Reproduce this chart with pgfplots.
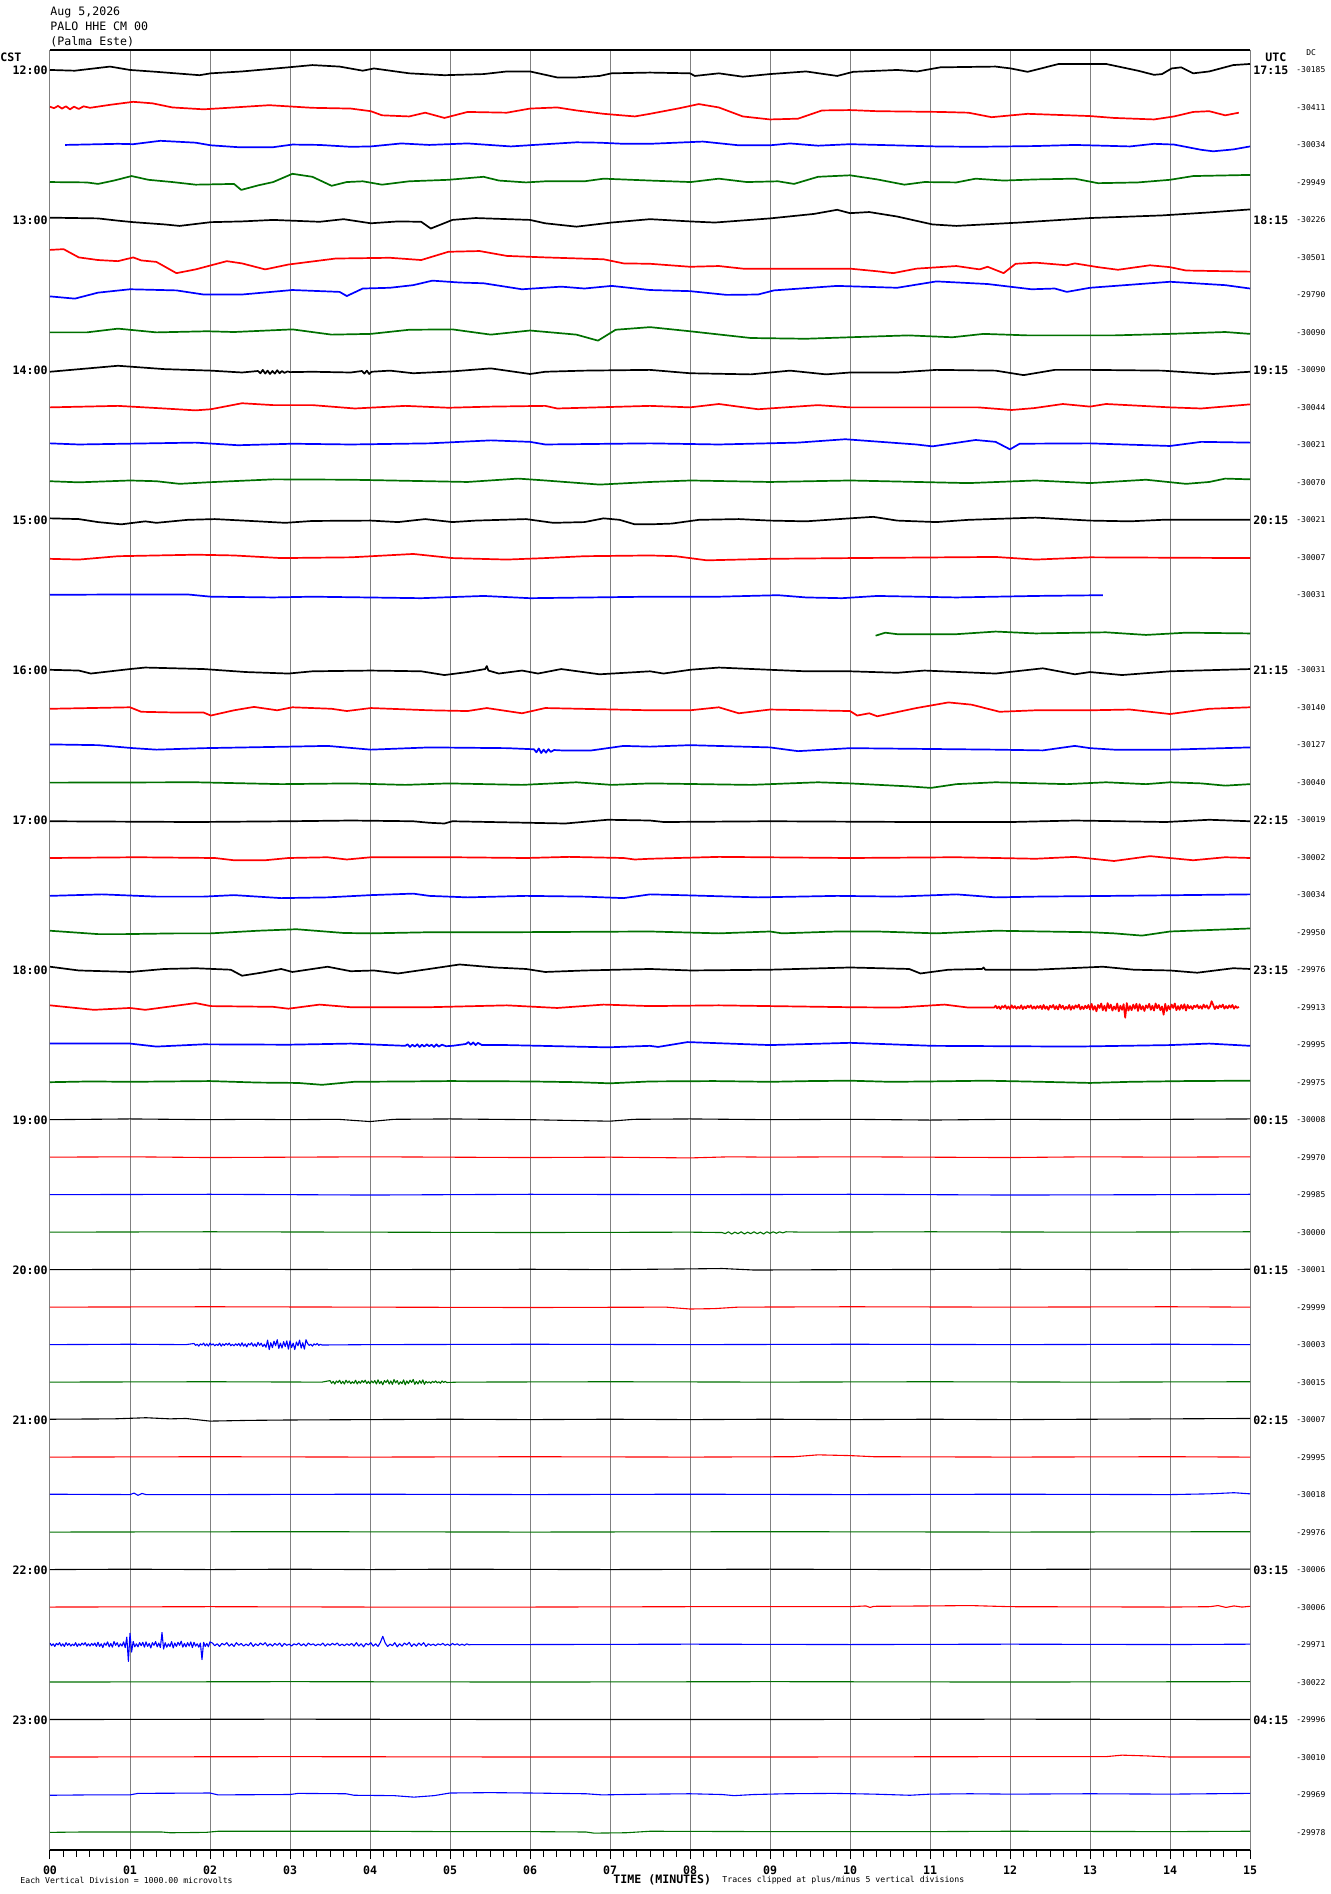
\documentclass[border=0pt]{standalone}
\usepackage{fontspec}
\setmainfont{DejaVu Sans Mono}
\usepackage{pgfplots}
\pgfplotsset{compat=1.18}
\definecolor{hgreen}{RGB}{0,112,0}
\definecolor{hgray}{RGB}{128,128,128}
\newcommand\lbl{\bfseries\fontsize{5.8}{6}\selectfont}
\newcommand\sml{\fontsize{4.1}{4.5}\selectfont}
\newcommand\dcf{\fontsize{4.0}{4.4}\selectfont}
\pgfplotsset{
 tr/.style 2 args={#1, line width=0.85pt, line join=round, y filter/.expression={y-#2}},
 tq/.style 2 args={#1, line width=0.55pt, line join=round, y filter/.expression={y-#2}},
}
\begin{document}
\begin{tikzpicture}
\path[use as bounding box] (0,0) rectangle (665pt,947pt);
\begin{axis}[
 at={(25pt,22pt)}, anchor=south west,
 scale only axis, width=600pt, height=900pt,
 xmin=0, xmax=15, ymin=-47.48, ymax=0.533,
 xtick={0,...,15},
 xticklabels={00,01,02,03,04,05,06,07,08,09,10,11,12,13,14,15},
 minor x tick num=5,
 ytick=\empty,
 xtick pos=lower,
 tick align=outside,
 major tick length=4.5pt, minor tick length=3.3pt,
 xmajorgrids,
 grid style={hgray, line width=0.5pt},
 separate axis lines,
 x axis line style={black, line width=0.7pt},
 y axis line style={hgray, line width=0.5pt},
 tick style={black, line width=0.5pt},
 xticklabel style={font=\lbl},
 no markers,
 clip mode=individual,
]
% 12:00
\addplot[tr={black}{0}] coordinates {(0,0) (0.31,-0.02) (0.75,0.09) (1,0) (1.33,-0.05) (1.87,-0.14) (2.01,-0.09) (2.4,-0.04) (2.98,0.07) (3.28,0.13) (3.62,0.09) (3.91,-0.02) (4.05,0.04) (4.49,-0.09) (4.93,-0.14) (5.42,-0.11) (5.71,-0.04) (6,-0.04) (6.34,-0.2) (6.58,-0.2) (6.87,-0.16) (7.02,-0.09) (7.5,-0.07) (8,-0.09) (8.06,-0.16) (8.36,-0.09) (8.66,-0.18) (9,-0.11) (9.45,-0.04) (9.84,-0.16) (10.04,-0.05) (10.59,0) (10.84,-0.04) (11.13,0.07) (11.82,0.09) (12.01,0.04) (12.22,-0.05) (12.61,0.16) (13.01,0.16) (13.2,0.16) (13.6,-0.02) (13.8,-0.13) (13.9,-0.11) (14.02,0.04) (14.14,0.07) (14.29,-0.09) (14.49,-0.04) (14.79,0.13) (15,0.16)};
\addplot[tr={red}{1}] coordinates {(0,0.02) (0.05,-0.02) (0.1,0.04) (0.15,-0.03) (0.2,0.03) (0.25,-0.05) (0.3,0.02) (0.36,-0.04) (0.42,0.03) (0.5,-0.01) (0.75,0.07) (1.04,0.15) (1.28,0.11) (1.53,0) (1.92,-0.05) (2.3,0) (2.74,0.06) (3.28,-0.01) (3.76,-0.03) (4.01,-0.1) (4.15,-0.21) (4.49,-0.24) (4.69,-0.14) (4.93,-0.28) (5.22,-0.12) (5.71,-0.14) (6,-0.03) (6.34,0) (6.58,-0.08) (6.92,-0.17) (7.31,-0.24) (7.5,-0.17) (7.87,-0.02) (8.11,0.09) (8.36,0) (8.66,-0.24) (9,-0.32) (9.35,-0.3) (9.65,-0.08) (10,-0.07) (10.34,-0.1) (11.13,-0.12) (11.48,-0.14) (11.77,-0.26) (12.22,-0.17) (13,-0.23) (13.3,-0.28) (13.8,-0.32) (14.05,-0.24) (14.29,-0.12) (14.49,-0.1) (14.69,-0.21) (14.86,-0.14)};
\addplot[tr={blue}{2}] coordinates {(0.19,0) (0.85,0.03) (1.04,0.02) (1.38,0.11) (1.82,0.06) (2.01,-0.01) (2.35,-0.06) (2.79,-0.06) (3.03,0.01) (3.37,0) (3.76,-0.05) (4.01,-0.04) (4.39,0.04) (4.74,0) (5.22,0.04) (5.76,-0.04) (6.05,0) (6.58,0.07) (6.87,0.06) (7.17,0.03) (7.5,0.03) (8.16,0.09) (8.61,-0.01) (9,-0.01) (9.25,0.04) (9.6,-0.02) (10,0.02) (11.08,-0.04) (11.57,-0.05) (12.32,-0.03) (12.81,0) (13.5,-0.04) (13.8,0.03) (14.05,0.01) (14.39,-0.13) (14.54,-0.17) (14.79,-0.12) (15,-0.04)};
\addplot[tr={hgreen}{3}] coordinates {(0,0.01) (0.46,0) (0.6,-0.04) (0.8,0.05) (1.02,0.17) (1.23,0.07) (1.53,0.01) (1.82,-0.06) (2.3,-0.04) (2.39,-0.2) (2.6,-0.08) (2.79,0.01) (3.03,0.23) (3.28,0.15) (3.52,-0.09) (3.71,0.01) (3.91,0.03) (4.15,-0.06) (4.49,0.03) (4.98,0.07) (5.42,0.15) (5.61,0.05) (5.95,0) (6.19,0.03) (6.68,0.03) (6.92,0.1) (7.5,0.05) (8.01,0.01) (8.36,0.1) (8.71,0.01) (9.1,0.03) (9.3,-0.04) (9.6,0.15) (10,0.19) (10.34,0.08) (10.68,-0.06) (10.93,0.01) (11.33,0) (11.57,0.1) (11.92,0.05) (12.32,0.08) (12.81,0.1) (13.1,-0.02) (13.6,0) (14,0.07) (14.29,0.17) (15,0.2)};
% 13:00
\addplot[tr={black}{4}] coordinates {(0,0.06) (0.6,0.04) (0.85,-0.02) (1.04,-0.06) (1.43,-0.12) (1.62,-0.16) (2.01,-0.06) (2.4,-0.04) (2.79,0) (3.37,-0.05) (3.67,0.02) (4.01,-0.09) (4.35,-0.04) (4.64,-0.05) (4.76,-0.23) (5.03,0) (5.32,0.05) (6,0) (6.19,-0.09) (6.58,-0.18) (7.02,-0.07) (7.5,0.02) (8,-0.04) (8.31,-0.07) (9,0.04) (9.55,0.16) (9.84,0.27) (10,0.18) (10.24,0.21) (10.59,0.09) (11.03,-0.12) (11.33,-0.16) (12.12,-0.07) (13,0.05) (13.9,0.12) (14.49,0.2) (15,0.28)};
\addplot[tr={red}{5}] coordinates {(0,0.2) (0.17,0.22) (0.36,0) (0.6,-0.07) (0.85,-0.1) (1.04,0) (1.14,-0.08) (1.33,-0.12) (1.58,-0.42) (1.82,-0.32) (2.21,-0.1) (2.4,-0.16) (2.69,-0.32) (2.98,-0.19) (3.57,-0.03) (4.25,-0.01) (4.64,-0.07) (4.98,0.15) (5.37,0.17) (5.71,0.04) (6.19,0) (6.92,-0.05) (7.17,-0.16) (7.5,-0.17) (8,-0.25) (8.36,-0.23) (8.66,-0.3) (10,-0.3) (10.34,-0.37) (10.54,-0.42) (10.83,-0.3) (11.33,-0.23) (11.62,-0.32) (11.72,-0.25) (11.92,-0.42) (12.07,-0.17) (12.32,-0.14) (12.71,-0.21) (12.81,-0.16) (13.1,-0.26) (13.35,-0.33) (13.75,-0.21) (14,-0.26) (14.2,-0.35) (15,-0.38)};
\addplot[tr={blue}{6}] coordinates {(0,-0.04) (0.31,-0.1) (0.6,0.06) (1,0.15) (1.58,0.12) (1.92,0.01) (2.4,0.01) (3.03,0.13) (3.62,0.08) (3.71,-0.03) (3.91,0.17) (4.25,0.19) (4.54,0.26) (4.78,0.38) (5.12,0.33) (5.42,0.31) (5.9,0.15) (6.39,0.22) (6.68,0.17) (7.02,0.24) (7.5,0.13) (8,0.1) (8.46,0) (8.85,0.01) (9.05,0.12) (9.84,0.24) (10.59,0.19) (11.08,0.36) (11.72,0.29) (12.27,0.15) (12.56,0.17) (12.71,0.08) (13,0.19) (14,0.35) (14.69,0.26) (15,0.17)};
\addplot[tr={hgreen}{7}] coordinates {(0,0) (0.46,0) (0.85,0.1) (1.33,0) (1.96,0.03) (2.3,0.01) (3.03,0.08) (3.52,-0.06) (4.01,-0.04) (4.49,0.07) (5.03,0.08) (5.51,-0.06) (6,0.05) (6.58,-0.06) (6.85,-0.22) (7.07,0.07) (7.5,0.14) (8,0.03) (8.76,-0.15) (9.45,-0.17) (10,-0.13) (10.73,-0.08) (11.28,-0.13) (11.67,-0.04) (12.22,-0.08) (13.3,-0.08) (14,-0.04) (14.69,0.01) (15,-0.04)};
% 14:00
\addplot[tr={black}{8}] coordinates {(0,-0.05) (0.85,0.11) (1.43,0.02) (2.01,-0.02) (2.4,-0.07) (2.6,-0.03) (2.63,-0.09) (2.66,0) (2.69,-0.1) (2.72,-0.02) (2.75,-0.11) (2.78,-0.03) (2.81,-0.1) (2.84,-0.01) (2.87,-0.09) (2.9,-0.03) (2.93,-0.08) (2.97,-0.04) (3.0,-0.06) (3.28,-0.05) (3.76,-0.07) (3.9,-0.03) (3.93,-0.1) (3.96,-0.02) (3.99,-0.11) (4.02,-0.05) (4.25,-0.02) (4.54,-0.09) (5.03,-0.04) (5.51,0.04) (6,-0.11) (6.19,-0.05) (6.68,-0.02) (7.5,0) (8,-0.09) (8.76,-0.12) (9.25,-0.02) (9.7,-0.12) (10,-0.07) (10.59,-0.07) (11.08,0) (11.82,-0.02) (12.17,-0.14) (12.56,0) (13,0) (13.9,-0.02) (14.54,-0.11) (15,-0.05)};
\addplot[tr={red}{9}] coordinates {(0,0) (0.85,0.04) (1.43,-0.03) (1.82,-0.08) (2.01,-0.05) (2.4,0.11) (2.79,0.06) (3.28,0.06) (3.81,-0.03) (4.44,0.04) (4.98,-0.01) (5.51,0.02) (6.19,0.04) (6.34,-0.03) (7.5,0.04) (8,0) (8.36,0.09) (8.85,-0.05) (9.6,0.06) (10,0) (11.6,0) (12.02,-0.07) (12.3,-0.02) (12.66,0.09) (13,0.02) (13.2,0.09) (14,0) (14.39,-0.03) (15,0.08)};
\addplot[tr={blue}{10}] coordinates {(0,0.04) (0.36,0.01) (1.82,0.06) (2.35,-0.01) (3.03,0.03) (3.76,0.01) (4.74,0.04) (5.51,0.12) (6,0.08) (6.19,0.01) (7.5,0.04) (8.36,0.01) (9.35,0.06) (9.94,0.15) (10.83,0.01) (11.03,-0.04) (11.57,0.13) (11.82,0.08) (12,-0.12) (12.12,0.03) (13,0.04) (14,-0.03) (14.39,0.08) (15,0.06)};
\addplot[tr={hgreen}{11}] coordinates {(0,0.03) (0.36,0) (1,0.05) (1.33,0.03) (1.62,-0.04) (1.96,0) (2.79,0.08) (3.76,0.07) (4.74,0.03) (5.22,0.01) (5.85,0.1) (6.19,0.05) (6.87,-0.06) (7.5,0.01) (8.01,0.05) (9,0.01) (10,0.05) (11.48,-0.02) (12.32,0.05) (13,-0.02) (13.7,0.07) (14.2,-0.04) (14.49,0.01) (14.69,0.1) (15,0.08)};
% 15:00
\addplot[tr={black}{12}] coordinates {(0,0.04) (0.36,0.02) (0.6,-0.06) (0.89,-0.12) (1.19,-0.04) (1.33,-0.08) (1.72,0) (2.06,0.02) (2.6,-0.04) (2.94,-0.08) (3.28,-0.03) (4.01,-0.02) (4.35,-0.06) (4.69,0.02) (5.03,-0.06) (5.32,-0.02) (5.95,0.02) (6.29,-0.08) (6.68,-0.06) (6.92,0.04) (7.12,0) (7.31,-0.12) (7.5,-0.12) (7.77,-0.1) (8.11,0) (8.61,0.02) (9,-0.02) (9.45,-0.04) (10,0.04) (10.29,0.08) (10.59,-0.02) (11.08,-0.06) (11.48,0) (12.32,0.06) (13,-0.02) (13.5,-0.04) (13.9,0) (15,0)};
\addplot[tr={red}{13}] coordinates {(0,-0.04) (0.36,-0.06) (0.85,0.03) (1.82,0.07) (2.3,0.05) (2.89,-0.02) (3.76,0) (4.54,0.09) (5.03,-0.02) (5.71,-0.06) (6.19,-0.02) (6.68,0.03) (7.5,0.05) (7.82,0.03) (8.21,-0.08) (9,-0.04) (10,-0.02) (11.82,0.01) (12.32,-0.06) (13,0) (15,-0.02)};
\addplot[tr={blue}{14}] coordinates {(0,0) (1,0.01) (1.72,0.01) (2.01,-0.05) (2.79,-0.07) (3.28,-0.05) (4.64,-0.09) (5.42,-0.03) (6,-0.09) (7.5,-0.05) (8.36,-0.05) (9.1,-0.01) (9.45,-0.07) (9.9,-0.09) (10.34,-0.03) (11.33,-0.07) (12.32,-0.03) (13.16,-0.01)};
\addplot[tr={hgreen}{15}] coordinates {(10.32,-0.09) (10.44,-0.01) (10.59,-0.05) (11.33,-0.05) (11.82,0.02) (12.32,-0.03) (13.2,0) (13.7,-0.07) (14.2,-0.01) (15,-0.03)};
% 16:00
\addplot[tr={black}{16}] coordinates {(0,0) (0.36,-0.02) (0.51,-0.1) (1,0.02) (1.19,0.06) (1.92,0.02) (2.45,-0.06) (2.98,-0.1) (3.28,-0.04) (4.01,-0.02) (4.64,-0.04) (4.93,-0.14) (5.22,-0.06) (5.44,0.02) (5.46,0.1) (5.48,-0.02) (5.61,-0.1) (5.9,-0.02) (6.1,-0.1) (6.39,0.02) (6.87,-0.12) (7.5,-0.04) (7.67,-0.1) (8,0) (8.36,0.06) (9,0) (9.45,-0.04) (10,-0.04) (10.59,-0.08) (10.93,-0.02) (11.82,-0.1) (12.41,0.04) (12.81,-0.12) (13,-0.06) (13.4,-0.14) (14,-0.04) (15,0.02)};
\addplot[tr={red}{17}] coordinates {(0,-0.04) (1,0) (1.14,-0.12) (1.58,-0.14) (1.92,-0.14) (2.01,-0.22) (2.3,-0.08) (2.55,0.01) (2.84,-0.08) (3.03,0) (3.52,-0.04) (3.71,-0.1) (4.01,-0.02) (4.74,-0.08) (5.22,-0.1) (5.46,-0.02) (5.9,-0.16) (6.19,-0.02) (7.5,-0.08) (8,-0.08) (8.36,0) (8.61,-0.16) (9,-0.06) (10,-0.1) (10.09,-0.22) (10.24,-0.16) (10.34,-0.24) (10.83,-0.02) (11.23,0.13) (11.52,0.07) (11.87,-0.12) (12.32,-0.08) (13,-0.08) (13.5,-0.06) (14,-0.18) (14.49,-0.04) (15,0)};
\addplot[tr={blue}{18}] coordinates {(0,0.01) (0.6,-0.01) (1.04,-0.09) (1.33,-0.13) (1.92,-0.09) (2.98,-0.05) (3.47,-0.03) (4.01,-0.13) (4.74,-0.07) (5.71,-0.09) (6.05,-0.12) (6.08,-0.2) (6.11,-0.1) (6.14,-0.22) (6.17,-0.13) (6.2,-0.21) (6.23,-0.12) (6.26,-0.19) (6.3,-0.14) (6.39,-0.15) (6.77,-0.15) (7.17,-0.03) (7.5,-0.05) (8,-0.01) (9,-0.07) (9.35,-0.17) (10,-0.09) (11.82,-0.13) (12.41,-0.15) (12.81,-0.03) (13,-0.09) (13.3,-0.13) (14,-0.13) (15,-0.07)};
\addplot[tr={hgreen}{19}] coordinates {(0,-0.01) (1.82,0) (2.89,-0.05) (3.76,-0.03) (4.44,-0.07) (4.98,-0.03) (5.9,-0.07) (6.58,0) (7.02,-0.07) (7.5,-0.03) (8.76,-0.07) (9.6,0) (10,-0.03) (10.74,-0.11) (11.01,-0.15) (11.33,-0.05) (11.82,0) (12.71,-0.05) (13.2,0) (13.7,-0.05) (14,0) (14.39,-0.03) (14.69,-0.09) (15,-0.05)};
% 17:00
\addplot[tr={black}{20}] coordinates {(0,-0.04) (1.82,-0.06) (2.98,-0.04) (3.76,-0.02) (4.54,-0.04) (4.74,-0.08) (4.93,-0.1) (5.03,-0.04) (6.44,-0.1) (6.97,0) (7.5,-0.02) (7.67,-0.06) (9,-0.04) (10.83,-0.06) (12.02,-0.06) (12.81,-0.02) (13.95,-0.06) (14.49,0) (15,-0.04)};
\addplot[tr={red}{21}] coordinates {(0,-0.02) (1.09,0) (2.06,-0.02) (2.3,-0.08) (2.69,-0.08) (2.98,-0.02) (3.47,0) (3.71,-0.06) (4.01,0) (5.03,0) (5.95,-0.02) (6.49,0.01) (7.17,-0.02) (7.31,-0.06) (7.5,-0.04) (8.36,0.01) (10,-0.02) (11.33,0) (12.32,-0.04) (12.81,0.01) (13.3,-0.1) (13.75,0.03) (14.29,-0.08) (14.69,0) (15,-0.02)};
\addplot[tr={blue}{22}] coordinates {(0,-0.03) (0.65,0.01) (1.33,-0.05) (1.92,-0.05) (2.3,-0.01) (2.89,-0.09) (3.47,-0.07) (4.01,-0.01) (4.54,0.03) (4.74,-0.03) (5.22,-0.07) (5.95,-0.03) (6.68,-0.05) (7.17,-0.09) (7.5,0.01) (7.87,-0.01) (8.85,-0.07) (9.84,-0.03) (10.59,-0.05) (11.33,0.01) (11.82,-0.07) (12.32,-0.05) (13.3,-0.03) (15,0.01)};
\addplot[tr={hgreen}{23}] coordinates {(0,0.04) (0.6,-0.05) (0.94,-0.05) (1.58,-0.03) (2.01,-0.03) (2.6,0.04) (3.08,0.08) (3.67,-0.02) (4.01,-0.03) (4.74,0) (5.71,0) (7.5,0.02) (8.36,-0.03) (9,0.02) (9.15,-0.03) (9.84,0.02) (10.34,0.02) (11.08,-0.03) (11.82,0.04) (13,0) (13.3,-0.03) (13.65,-0.09) (14,0.02) (15,0.1)};
% 18:00
\addplot[tr={black}{24}] coordinates {(0,0.08) (0.36,-0.02) (1,-0.06) (1.43,0.02) (1.82,0.04) (2.26,0) (2.4,-0.16) (2.64,-0.08) (2.89,0.02) (3.03,-0.06) (3.47,0.08) (3.76,-0.04) (4.05,-0.02) (4.35,-0.1) (4.74,0.02) (5.12,0.14) (5.56,0.06) (5.95,0.02) (6.19,-0.06) (6.68,-0.02) (7.5,0.02) (8.01,-0.02) (9,0) (10,0.06) (10.74,0.02) (10.88,-0.1) (11.23,0) (11.65,0.02) (11.67,0.06) (11.69,0) (12.32,0) (13.16,0.08) (13.55,0) (14,-0.02) (14.34,-0.08) (14.79,0.04) (15,0.02)};
\addplot[tr={red}{25}] coordinates {(0,0.05) (0.55,-0.07) (1,-0.02) (1.19,-0.07) (1.82,0.11) (2.01,0.03) (2.79,0.01) (2.98,-0.04) (3.37,0.07) (3.76,0) (4.74,0) (5.71,0.05) (6.34,-0.02) (6.92,0.07) (7.5,0.03) (8.36,0.05) (9,0.03) (10,0) (10.59,-0.01) (11.18,0.07) (11.48,-0.01) (11.8,-0.01)
(11.82,0.04) (11.84,-0.03) (11.86,0.02) (11.88,-0.05) (11.90,0.03) (11.92,-0.01) (11.94,0.05) (11.96,-0.04) (11.98,0.02) (12.00,-0.05) (12.02,0.05) (12.04,-0.02) (12.06,0.03) (12.08,-0.04) (12.10,0.01) (12.12,-0.03) (12.14,0.05) (12.16,-0.05) (12.18,0.02) (12.20,-0.03) (12.22,0.04) (12.24,-0.01) (12.26,0.05) (12.28,-0.04) (12.30,0.02) (12.32,-0.04) (12.34,0.03) (12.36,-0.02) (12.38,0.04) (12.40,-0.05)
(12.42,0.06) (12.44,-0.04) (12.46,0.02) (12.48,-0.07) (12.50,0.04) (12.52,-0.01) (12.54,0.06) (12.56,-0.05) (12.58,0.03) (12.60,-0.06) (12.62,0.07) (12.64,-0.02) (12.66,0.04) (12.68,-0.06) (12.70,0.01) (12.72,-0.04) (12.74,0.06) (12.76,-0.07) (12.78,0.03) (12.80,-0.04) (12.82,0.05) (12.84,-0.01) (12.86,0.07) (12.88,-0.06) (12.90,0.02) (12.92,-0.05) (12.94,0.04) (12.96,-0.03) (12.98,0.06) (13.00,-0.06)
(13.02,0.09) (13.04,-0.07) (13.06,0.03) (13.08,-0.11) (13.10,0.06) (13.12,-0.02) (13.14,0.10) (13.16,-0.08) (13.18,0.04) (13.20,-0.10) (13.22,0.11) (13.24,-0.03) (13.26,0.07) (13.28,-0.09) (13.30,0.02) (13.32,-0.06) (13.34,0.10) (13.36,-0.11) (13.38,0.04) (13.40,-0.07) (13.42,0.08) (13.44,-0.28) (13.46,0.11) (13.48,-0.09) (13.50,0.03) (13.52,-0.08) (13.54,0.07) (13.56,-0.04) (13.58,0.09) (13.60,-0.10)
(13.62,0.08) (13.64,-0.06) (13.66,0.03) (13.68,-0.10) (13.70,0.05) (13.72,-0.02) (13.74,0.09) (13.76,-0.07) (13.78,0.04) (13.80,-0.09) (13.82,0.10) (13.84,-0.03) (13.86,0.06) (13.88,-0.08) (13.90,0.02) (13.92,-0.20) (13.94,0.09) (13.96,-0.10) (13.98,0.04) (14.00,-0.06) (14.02,0.07) (14.04,-0.02) (14.06,0.10) (14.08,-0.08) (14.10,0.03) (14.12,-0.07) (14.14,0.06) (14.16,-0.04) (14.18,0.08) (14.20,-0.09)
(14.22,0.06) (14.24,-0.03) (14.26,0.03) (14.28,-0.05) (14.30,0.04) (14.32,0.0) (14.34,0.06) (14.36,-0.03) (14.38,0.03) (14.40,-0.04) (14.42,0.07) (14.44,-0.01) (14.46,0.05) (14.48,-0.04) (14.50,0.02) (14.52,0.16) (14.54,0.06) (14.56,-0.05) (14.58,0.03) (14.60,-0.03) (14.62,0.05) (14.64,0.0) (14.66,0.07) (14.68,-0.04) (14.70,0.03) (14.72,-0.03) (14.74,0.05) (14.76,-0.01) (14.78,0.06) (14.80,-0.04)
(14.82,0.03) (14.84,-0.02) (14.86,0.01)};
\addplot[tr={blue}{26}] coordinates {(0,0.03) (1,0.03) (1.33,-0.05) (1.92,0.01) (2.98,0) (3.76,0.03) (4.44,-0.03) (4.47,0.01) (4.5,-0.06) (4.53,0) (4.56,-0.05) (4.59,0.01) (4.62,-0.06) (4.65,0) (4.68,-0.05) (4.71,0.01) (4.74,-0.04) (4.77,0.0) (4.8,-0.06) (4.83,0.01) (4.86,-0.05) (4.9,0.0) (4.95,-0.04) (5.03,-0.03) (5.2,0.02) (5.23,0.07) (5.26,0) (5.29,0.06) (5.32,-0.01) (5.35,0.05) (5.4,-0.01) (5.71,-0.01) (6.97,-0.07) (7.5,-0.03) (7.6,-0.06) (7.97,0.07) (9,-0.01) (10,0.05) (11.03,-0.03) (12.81,-0.05) (14,-0.01) (14.49,0.03) (15,-0.03)};
\addplot[tr={hgreen}{27}] coordinates {(0,0) (0.5,0.02) (1,0.01) (2,0.03) (2.6,-0.01) (3.1,-0.02) (3.4,-0.07) (3.8,0.01) (4.5,0.02) (5,0.03) (6,0.02) (6.6,0) (7,-0.03) (7.5,0.02) (8.3,0.03) (9,0.01) (9.5,0.03) (10,0.04) (10.5,0.01) (11,0.02) (11.7,0.04) (12.4,0.01) (13,-0.02) (13.5,0.01) (14.2,0.03) (15,0.04)};
% 19:00
\addplot[tq={black}{28}] coordinates {(0,0) (1,0.02) (2,0) (2.5,0.01) (3,0) (3.6,0.01) (4.0,-0.05) (4.3,0.01) (5,0.02) (6,0) (7,-0.04) (7.3,0.01) (8,0.02) (9,0) (10,0.01) (11,-0.01) (12,0.01) (13,0) (14,0.01) (15,0.02)};
\addplot[tq={red}{29}] coordinates {(0,0) (1,0.01) (2,-0.01) (3,0) (4,0.01) (5,0) (6,-0.01) (7,0) (8,-0.02) (8.5,0.01) (9,0) (10,0.01) (11,0) (12,-0.01) (13,0.01) (14,0) (15,0.01)};
\addplot[tq={blue}{30}] coordinates {(0,0) (2,0.01) (4,-0.01) (6,0.01) (8,0) (10,0.01) (12,-0.01) (14,0) (15,0.01)};
\addplot[tq={hgreen}{31}] coordinates {(0,0) (2,0.01) (4,0) (6,-0.01) (8,0) (8.4,-0.01) (8.44,-0.04) (8.48,0.01) (8.52,-0.05) (8.56,0) (8.6,-0.04) (8.64,0.01) (8.68,-0.05) (8.72,0) (8.76,-0.04) (8.8,0.01) (8.84,-0.04) (8.88,0) (8.92,-0.05) (8.96,0.01) (9.0,-0.03) (9.04,0.01) (9.08,-0.03) (9.12,0.01) (9.16,-0.02) (9.2,0.01) (9.4,0) (11,0.01) (13,0) (15,0.01)};
% 20:00
\addplot[tq={black}{32}] coordinates {(0,0) (2,0.01) (4,0) (6,0.01) (7,0) (8,0.02) (8.4,0.03) (8.8,-0.01) (10,0) (12,0.01) (14,0) (15,0.01)};
\addplot[tq={red}{33}] coordinates {(0,0) (2,0.01) (4,0) (6,-0.01) (7.7,0) (8,-0.05) (8.3,-0.04) (8.6,0) (10,0.01) (12,0) (14,0.01) (15,0)};
\addplot[tq={blue}{34}] coordinates {(0,0) (1,0.01) (1.7,0)
(1.80,0.03) (1.82,-0.02) (1.84,0.01) (1.86,-0.04) (1.88,0.02) (1.90,-0.01) (1.92,0.04) (1.94,-0.03) (1.96,0.02) (1.98,-0.04) (2.00,0.04) (2.02,-0.01) (2.04,0.02) (2.06,-0.03) (2.08,0.01) (2.10,-0.02) (2.12,0.04) (2.14,-0.04) (2.16,0.02) (2.18,-0.02) (2.20,0.03) (2.22,-0.01) (2.24,0.04) (2.26,-0.03) (2.28,0.01) (2.30,-0.03) (2.32,0.02) (2.34,-0.02) (2.36,0.03) (2.38,-0.04)
(2.40,0.05) (2.42,-0.04) (2.44,0.02) (2.46,-0.06) (2.48,0.03) (2.50,-0.01) (2.52,0.05) (2.54,-0.04) (2.56,0.02) (2.58,-0.05) (2.60,0.06) (2.62,-0.02) (2.64,0.04) (2.66,-0.05) (2.68,0.01)
(2.70,-0.07) (2.72,0.12) (2.74,-0.13) (2.76,0.05) (2.78,-0.08) (2.80,0.09) (2.82,-0.03) (2.84,0.13) (2.86,-0.10) (2.88,0.04) (2.90,-0.09) (2.92,0.08) (2.94,-0.05) (2.96,0.10) (2.98,-0.12) (3.00,0.10) (3.02,-0.08) (3.04,0.04) (3.06,-0.13) (3.08,0.07) (3.10,-0.03) (3.12,0.12) (3.14,-0.09) (3.16,0.05) (3.18,-0.12) (3.20,0.13)
(3.22,0.03) (3.24,-0.02) (3.26,0.01) (3.28,-0.04) (3.30,0.02) (3.32,-0.01) (3.34,0.03) (3.36,-0.02) (3.38,0.01) (3.40,-0.01)
(4,0) (6,0.01) (8,0) (10,0.01) (12,0) (14,0.01) (15,0)};
\addplot[tq={hgreen}{35}] coordinates {(0,0) (2,0.01) (3.4,0)
(3.50,0.04) (3.52,-0.03) (3.54,0.02) (3.56,-0.05) (3.58,0.03) (3.60,-0.01) (3.62,0.05) (3.64,-0.04) (3.66,0.02) (3.68,-0.05) (3.70,0.05) (3.72,-0.02) (3.74,0.03) (3.76,-0.04) (3.78,0.01) (3.80,-0.03) (3.82,0.05) (3.84,-0.05) (3.86,0.02) (3.88,-0.03) (3.90,0.04) (3.92,-0.01) (3.94,0.05) (3.96,-0.04) (3.98,0.02) (4.00,-0.04) (4.02,0.03) (4.04,-0.02) (4.06,0.04) (4.08,-0.05)
(4.10,0.06) (4.12,-0.04) (4.14,0.02) (4.16,-0.07) (4.18,0.04) (4.20,-0.01) (4.22,0.06) (4.24,-0.05) (4.26,0.03) (4.28,-0.06) (4.30,0.07) (4.32,-0.02) (4.34,0.04) (4.36,-0.06) (4.38,0.01) (4.40,-0.04) (4.42,0.06) (4.44,-0.07) (4.46,0.03) (4.48,-0.04) (4.50,0.05) (4.52,-0.01) (4.54,0.07) (4.56,-0.06) (4.58,0.02) (4.60,-0.05) (4.62,0.04) (4.64,-0.03) (4.66,0.06) (4.68,-0.06)
(4.70,0.02) (4.72,-0.02) (4.74,0.01) (4.76,-0.03) (4.78,0.02) (4.80,-0.01) (4.82,0.03) (4.84,-0.02) (4.86,0.01) (4.88,-0.03) (4.90,0.03) (4.92,-0.01) (4.94,0.02) (4.96,-0.01)
(5.1,0) (7,0.01) (9,0) (11,0.01) (13,0) (15,0.01)};
% 21:00
\addplot[tq={black}{36}] coordinates {(0,0.01) (0.8,0.02) (1.2,0.05) (1.5,0.02) (1.7,0.03) (2.0,-0.04) (2.5,-0.02) (3,-0.01) (4,0) (5,0.01) (6,0) (7,0.01) (8,0) (9,0.01) (10,0) (11,0.01) (12,0) (13,0.01) (14,0.02) (15,0.03)};
\addplot[tq={red}{37}] coordinates {(0,0) (2,0.01) (4,0) (6,0.01) (8,0) (9.3,0.01) (9.6,0.06) (10.0,0.04) (10.3,0.01) (12,0) (14,0.01) (15,0)};
\addplot[tq={blue}{38}] coordinates {(0,0.01) (1.0,0) (1.05,0.04) (1.1,-0.02) (1.15,0.03) (1.2,0) (2,0) (4,0.01) (6,0) (8,0.01) (10,0) (12,0.01) (14,0) (14.5,0.02) (14.8,0.05) (15,0.02)};
\addplot[tq={hgreen}{39}] coordinates {(0,0) (3,0.01) (6,0) (9,0.01) (12,0) (15,0.01)};
% 22:00
\addplot[tq={black}{40}] coordinates {(0,0) (1,0.01) (2,0) (3,0.01) (4,0) (5,0.01) (7,0) (9,0.01) (11,0) (13,0.01) (15,0.01)};
\addplot[tq={red}{41}] coordinates {(0,0) (2,0.01) (4,0) (6,0) (8,0.01) (10,0.01) (10.2,0.03) (10.25,-0.01) (10.3,0.02) (11,0.03) (11.5,0.04) (12,0.01) (14,0) (14.5,0.01) (14.6,0.04) (14.7,-0.01) (14.8,0.03) (14.9,0) (15,0.02)};
\addplot[tq={blue}{42}] coordinates {(0.00,0.04) (0.02,-0.03) (0.04,0.02) (0.06,-0.05) (0.08,0.03) (0.10,-0.01) (0.12,0.05) (0.14,-0.04) (0.16,0.02) (0.18,-0.05) (0.20,0.05) (0.22,-0.02) (0.24,0.03) (0.26,-0.04) (0.28,0.01) (0.30,-0.03) (0.32,0.05) (0.34,-0.05) (0.36,0.02) (0.38,-0.03) (0.40,0.04) (0.42,-0.01) (0.44,0.05) (0.46,-0.04) (0.48,0.02) (0.50,-0.04) (0.52,0.03) (0.54,-0.02) (0.56,0.04) (0.58,-0.05)
(0.60,0.06) (0.62,-0.05) (0.64,0.02) (0.66,-0.08) (0.68,0.04) (0.70,-0.02) (0.72,0.07) (0.74,-0.06) (0.76,0.03) (0.78,-0.07) (0.80,0.08) (0.82,-0.02) (0.84,0.05) (0.86,-0.06) (0.88,0.02) (0.90,-0.04) (0.92,0.07) (0.94,-0.08) (0.96,0.2) (0.98,-0.45) (1.00,0.3) (1.02,-0.2) (1.04,0.08) (1.06,-0.06) (1.08,0.02) (1.10,-0.06) (1.12,0.05) (1.14,-0.03) (1.16,0.06) (1.18,-0.07)
(1.20,0.07) (1.22,-0.05) (1.24,0.03) (1.26,-0.09) (1.28,0.05) (1.30,-0.02) (1.32,0.08) (1.34,-0.06) (1.36,0.04) (1.38,-0.08) (1.40,0.32) (1.42,-0.12) (1.44,0.05) (1.46,-0.07) (1.48,0.02) (1.50,-0.05) (1.52,0.08) (1.54,-0.09) (1.56,0.04) (1.58,-0.05) (1.60,0.06) (1.62,-0.02) (1.64,0.09) (1.66,-0.07) (1.68,0.03) (1.70,-0.06) (1.72,0.05) (1.74,-0.04) (1.76,0.07) (1.78,-0.08)
(1.80,0.06) (1.82,-0.04) (1.84,0.02) (1.86,-0.07) (1.88,0.04) (1.90,-0.4) (1.92,0.06) (1.94,-0.05) (1.96,0.03) (1.98,-0.06) (2.00,0.07)
(2.03,0.04) (2.06,-0.03) (2.09,0.02) (2.12,-0.05) (2.15,0.03) (2.18,-0.01) (2.21,0.05) (2.24,-0.04) (2.27,0.02) (2.30,-0.05) (2.33,0.05) (2.36,-0.02) (2.39,0.03) (2.42,-0.04) (2.45,0.01) (2.48,-0.03) (2.51,0.05) (2.54,-0.05) (2.57,0.02) (2.60,-0.03) (2.63,0.04) (2.66,-0.01) (2.69,0.05) (2.72,-0.04) (2.75,0.02) (2.78,-0.04) (2.81,0.03) (2.84,-0.02) (2.87,0.04) (2.90,-0.05)
(2.93,0.03) (2.96,-0.02) (2.99,0.01) (3.02,-0.04) (3.05,0.02) (3.08,-0.01) (3.11,0.04) (3.14,-0.03) (3.17,0.02) (3.20,-0.04) (3.23,0.04) (3.26,-0.01) (3.29,0.02) (3.32,-0.03) (3.35,0.01) (3.38,-0.02) (3.41,0.04) (3.44,-0.04) (3.47,0.02) (3.50,-0.02) (3.53,0.03) (3.56,-0.01) (3.59,0.04) (3.62,-0.03) (3.65,0.01) (3.68,-0.03) (3.71,0.02) (3.74,-0.02) (3.77,0.03) (3.80,-0.04)
(3.83,0.05) (3.86,-0.04) (3.89,0.02) (3.92,-0.06) (3.95,0.03) (3.98,-0.01) (4.01,0.05) (4.04,-0.04) (4.07,0.02) (4.10,-0.05) (4.13,0.06) (4.16,0.22) (4.19,0.04) (4.22,-0.05) (4.25,0.01) (4.28,-0.03) (4.31,0.05) (4.34,-0.06) (4.37,0.02) (4.40,-0.04) (4.43,0.04) (4.46,-0.01) (4.49,0.06) (4.52,-0.05) (4.55,0.02) (4.58,-0.04) (4.61,0.04) (4.64,-0.02) (4.67,0.05) (4.70,-0.05)
(4.73,0.02) (4.76,-0.02) (4.79,0.01) (4.82,-0.03) (4.85,0.02) (4.88,-0.01) (4.91,0.03) (4.94,-0.02) (4.97,0.01) (5.00,-0.03) (5.03,0.03) (5.06,-0.01) (5.09,0.02) (5.12,-0.02) (5.15,0.01) (5.18,-0.02) (5.21,0.02) (5.24,-0.01)
(5.26,0) (6,0) (8,0.01) (10,0) (12,0.01) (14,0) (15,0.01)};
\addplot[tq={hgreen}{43}] coordinates {(0,0) (3,0.01) (6,0) (9,0.01) (12,0) (15,0.01)};
% 23:00
\addplot[tq={black}{44}] coordinates {(0,0) (3,0.01) (6,0) (9,0) (12,0.01) (15,0)};
\addplot[tq={red}{45}] coordinates {(0,0) (3,0.01) (6,0) (9,0) (12,0.01) (13.2,0.01) (13.4,0.05) (13.7,0.03) (14,0) (15,0)};
\addplot[tq={blue}{46}] coordinates {(0,-0.02) (0.5,-0.01) (1,-0.01) (1.1,0.03) (2,0.04) (2.1,-0.01) (3,0.0) (3.1,0.03) (3.7,0.02) (3.8,-0.02) (4.3,-0.03) (4.55,-0.07) (4.8,-0.03) (5,0.04) (5.5,0.05) (6,0.04) (6.7,0.02) (6.9,-0.01) (7.5,0.01) (8,0.02) (8.4,0) (8.55,-0.03) (8.8,0) (9.2,0.02) (9.8,0.03) (10.3,0.01) (10.75,-0.02) (11,0.01) (11.5,0.02) (12,0.01) (13,0.02) (14,0.01) (14.5,0.02) (15,0.03)};
\addplot[tq={hgreen}{47}] coordinates {(0,-0.01) (0.4,0) (1.4,0) (1.5,-0.02) (1.95,-0.01) (2.1,0.02) (3,0.02) (4,0.02) (5,0.01) (6,0.01) (6.7,0) (6.8,-0.03) (7.2,-0.02) (7.5,0.02) (9,0.01) (10,0.01) (11,0.01) (12,0.02) (14,0.01) (15,0.02)};
\end{axis}
% header
\node[anchor=base west, inner sep=0pt, font=\fontsize{5.8}{6}\selectfont] at (25pt,939.25pt) {Aug 5,2026};
\node[anchor=base west, inner sep=0pt, font=\fontsize{5.8}{6}\selectfont] at (25pt,931.75pt) {PALO HHE CM 00};
\node[anchor=base west, inner sep=0pt, font=\fontsize{5.8}{6}\selectfont] at (25pt,924.4pt) {(Palma Este)};
\node[anchor=west, inner sep=0pt, font=\lbl] at (0pt,918.5pt) {CST};
\node[anchor=west, inner sep=0pt, font=\lbl] at (632.5pt,918.5pt) {UTC};
\node[anchor=west, inner sep=0pt, font=\dcf] at (653pt,920.5pt) {DC};
% hour labels
\foreach \k/\l/\r in {0/12:00/17:15,4/13:00/18:15,8/14:00/19:15,12/15:00/20:15,16/16:00/21:15,20/17:00/22:15,24/18:00/23:15,28/19:00/00:15,32/20:00/01:15,36/21:00/02:15,40/22:00/03:15,44/23:00/04:15}{
 \node[anchor=east, inner sep=0pt, font=\lbl] at (24pt,{(912-18.75*\k)*1pt}) {\l};
 \node[anchor=west, inner sep=0pt, font=\lbl] at (626.5pt,{(912-18.75*\k)*1pt}) {\r};
}
% DC values
\foreach \k/\v in {0/-30185,1/-30411,2/-30034,3/-29949,4/-30226,5/-30501,6/-29790,7/-30090,8/-30090,9/-30044,10/-30021,11/-30070,12/-30021,13/-30007,14/-30031,16/-30031,17/-30140,18/-30127,19/-30040,20/-30019,21/-30002,22/-30034,23/-29950,24/-29976,25/-29913,26/-29995,27/-29975,28/-30008,29/-29970,30/-29985,31/-30000,32/-30001,33/-29999,34/-30003,35/-30015,36/-30007,37/-29995,38/-30018,39/-29976,40/-30006,41/-30006,42/-29971,43/-30022,44/-29996,45/-30010,46/-29969,47/-29978}{
 \node[anchor=west, inner sep=0pt, font=\dcf] at (648pt,{(912-18.75*\k)*1pt}) {\v};
}
% bottom texts
\node[anchor=west, inner sep=0pt, font=\sml] at (10pt,7pt) {Each Vertical Division = 1000.00 microvolts};
\node[anchor=west, inner sep=0pt, font=\lbl] at (306.5pt,7pt) {TIME (MINUTES)};
\node[anchor=west, inner sep=0pt, font=\sml] at (361pt,7pt) {Traces clipped at plus/minus 5 vertical divisions};
\end{tikzpicture}
\end{document}
